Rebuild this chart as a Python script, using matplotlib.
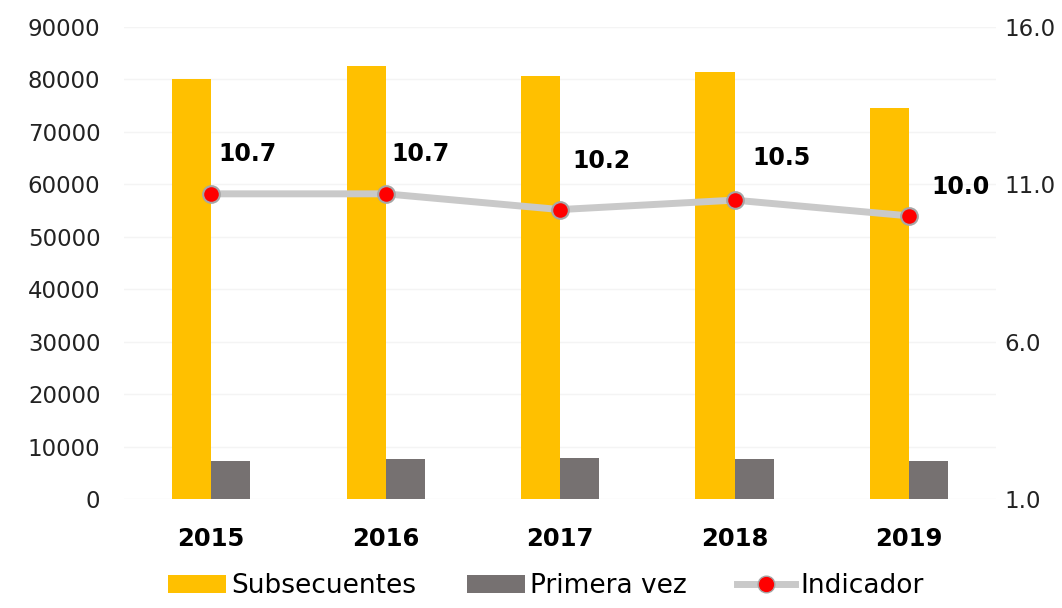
import numpy as np
import matplotlib.pyplot as plt
from matplotlib.lines import Line2D
from matplotlib.patches import Patch

plt.rcParams['font.family'] = ['DejaVu Sans']

years = ['2015', '2016', '2017', '2018', '2019']
subsecuentes = [80000, 82600, 80700, 81500, 74600]
primera_vez = [7300, 7600, 7800, 7600, 7300]
indicador = [10.7, 10.7, 10.2, 10.5, 10.0]

yellow = '#FFC000'
gray = '#767171'
line_gray = '#C9C9C9'

fig = plt.figure(figsize=(10.62, 6.08), dpi=100)
ax = fig.add_axes([0.1168, 0.179, 0.8212, 0.7766])
x = np.arange(len(years))
w = 0.224

ax.bar(x - w / 2, subsecuentes, w, color=yellow, zorder=2)
ax.bar(x + w / 2, primera_vez, w, color=gray, zorder=2)
ax.set_xlim(-0.5, 4.5)
ax.set_ylim(0, 90000)
ax.set_yticks(np.arange(0, 90001, 10000))
ax.grid(axis='y', color='#F4F4F4', linewidth=1, zorder=0)
ax.set_xticks(x)
ax.set_xticklabels(years, fontsize=17.5, fontweight='bold')
ax.tick_params(axis='x', length=0, pad=20)
ax.tick_params(axis='y', length=0, labelsize=16.5, pad=17, colors='#222222')
for s in ax.spines.values():
    s.set_visible(False)

ax2 = ax.twinx()
ax2.set_ylim(1.0, 16.0)
ax2.set_yticks([1.0, 6.0, 11.0, 16.0])
ax2.set_yticklabels(['1.0', '6.0', '11.0', '16.0'])
ax2.tick_params(axis='y', length=0, labelsize=16.5, pad=6, colors='#222222')
for s in ax2.spines.values():
    s.set_visible(False)
ax2.plot(x, indicador, color=line_gray, linewidth=5, marker='o', markersize=12,
         markerfacecolor='#FF0000', markeredgecolor='#A6A6A6', markeredgewidth=1.5,
         zorder=3)

offsets = [(5, 29), (4, 29), (9, 35), (13, 30), (16, 21)]
for xi, v, off in zip(x, indicador, offsets):
    ax2.annotate(f'{v:.1f}', (xi, v), xytext=off, textcoords='offset points',
                 ha='left', va='center', fontsize=17, fontweight='bold')

handles = [Patch(facecolor=yellow), Patch(facecolor=gray),
           Line2D([0], [0], color=line_gray, linewidth=5, marker='o', markersize=12,
                  markerfacecolor='#FF0000', markeredgecolor='#A6A6A6')]
fig.legend(handles, ['Subsecuentes', 'Primera vez', 'Indicador'], loc='lower center',
           bbox_to_anchor=(0.514, -0.025), ncol=3, frameon=False, fontsize=19,
           handlelength=2.2, handletextpad=0.2, columnspacing=1.9)

fig.savefig('out.png', dpi=100)
